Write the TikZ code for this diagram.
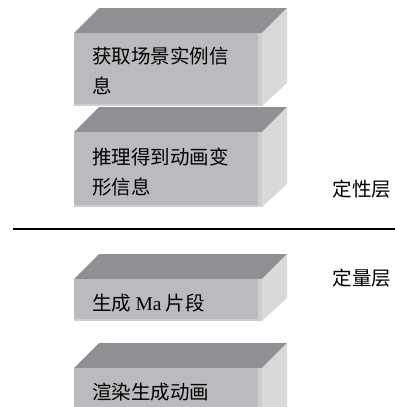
\documentclass[tikz,border=0pt]{standalone}
\usepackage{fontspec}
\setmainfont{Liberation Serif}
\newfontfamily\cjk{Noto Sans CJK SC}
\usepackage{tikz}
\usetikzlibrary{calc, positioning}
\definecolor{topgray}{RGB}{143,144,148}
\definecolor{frontgray}{RGB}{186,187,190}
\definecolor{sidegray}{RGB}{217,217,217}
\definecolor{edgegray}{RGB}{206,206,208}
\newcommand\slabblock[5]{\fill[topgray] (74,#2) -- (99,{#2-25}) -- (287,{#2-25}) -- (262,#2) -- cycle;\fill[sidegray] (262,#2) -- (287,{#2-25}) -- (287,{#3-23}) -- (262,#3) -- cycle;\fill[frontgray] (74,#2) rectangle (262,#3);\fill[edgegray] (258,#2) rectangle (262,#3);\fill[edgegray] (74,{#3-2}) rectangle (262,#3);\node[blocktext] (#1) at (92,#4) {#5};}
\newcommand\layerlabel[3]{\node[labeltext] (#1) at (362,#2) {#3};}

\begin{document}
\begin{tikzpicture}[x=1pt, y=-1pt,
  blocktext/.style={anchor=west, inner sep=0pt, align=left, font=\fontsize{19.5}{30}\selectfont\cjk},
  labeltext/.style={inner sep=0pt, font=\fontsize{19.5}{24}\selectfont\cjk}]
\useasboundingbox (0,0) rectangle (395,407);
\clip (0,0) rectangle (395,407);
\fill[white] (0,0) rectangle (395,407);

\slabblock{get}{33}{106}{70.5}{获取场景实例信\\息}
\slabblock{infer}{132}{207}{172}{推理得到动画变\\形信息}
\slabblock{make}{279}{321}{303}{生成 {\fontspec{Liberation Serif}Ma} 片段}
\slabblock{render}{368}{440}{392}{渲染生成动画}

\draw[line width=2pt] (13,229) -- (395,229);

\layerlabel{qual}{189}{定性层}
\layerlabel{quant}{278}{定量层}

\end{tikzpicture}
\end{document}
